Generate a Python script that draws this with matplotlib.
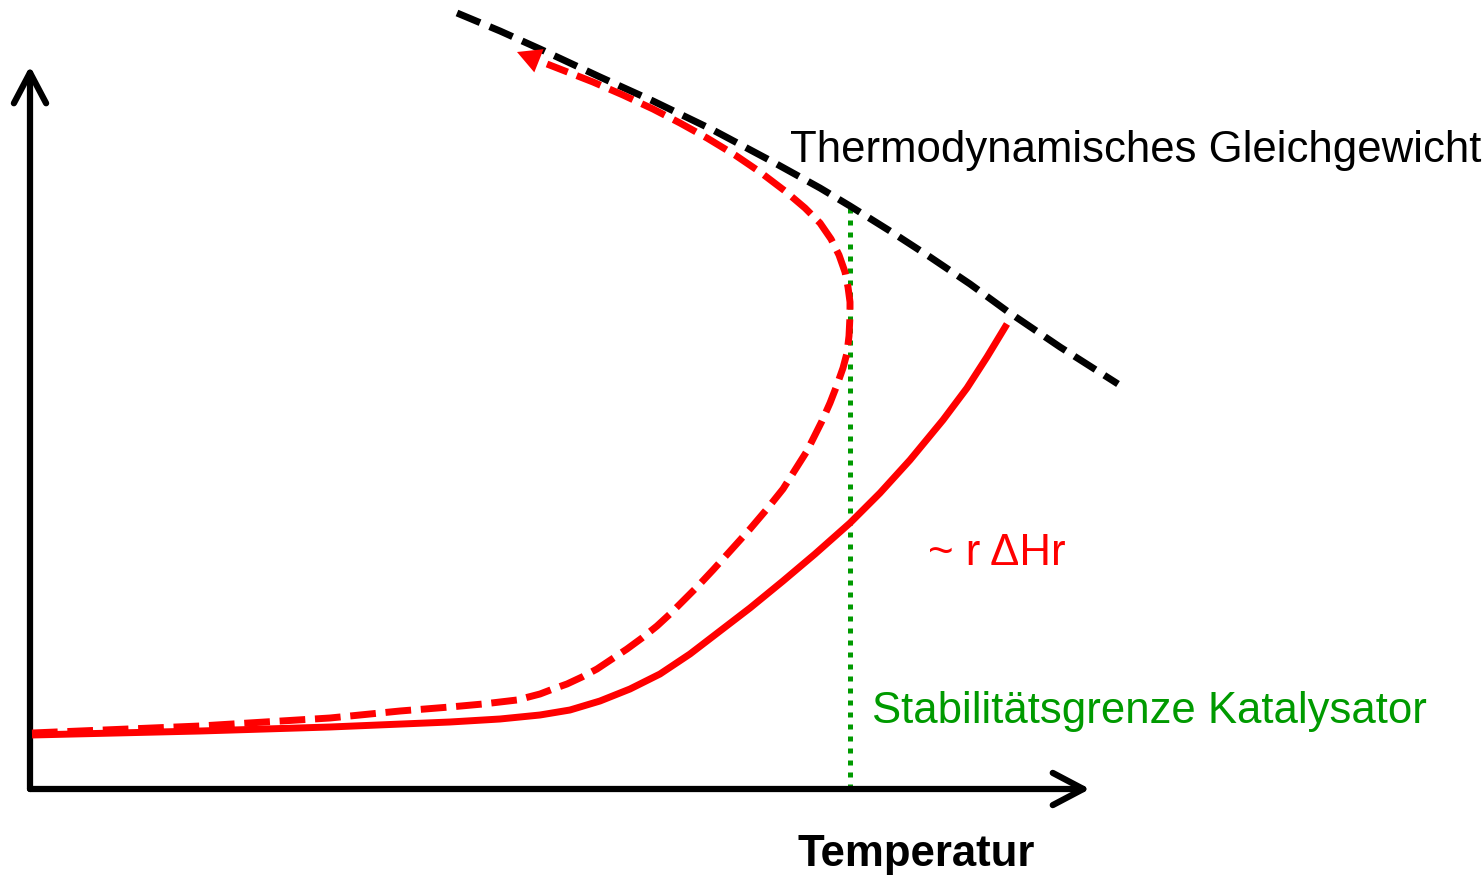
import matplotlib
matplotlib.use("Agg")
import matplotlib.pyplot as plt
from matplotlib import font_manager
from matplotlib.patches import FancyArrowPatch

# ---------------- data (schematic units: T to the right, Y upwards) ----------------
# solid red curve (~ r ΔHr)
solid_T = [2, 170, 300, 420, 470, 510, 540, 570, 600, 630, 660, 690, 720, 753, 785, 820,
           850, 880, 913, 937, 957, 977]
solid_Y = [54, 58, 62, 67, 70, 74, 79, 88, 100, 115, 135, 158, 181, 208, 235, 266,
           296, 329, 369, 401, 432, 465]

# dashed red curve (S-shaped), ending in an arrow head
dashed_T = [2, 170, 300, 370, 420, 453, 487, 510, 523, 537, 552, 567, 582, 597, 612, 627,
            640, 653, 668, 683, 702, 720, 737, 753, 777, 792, 800, 807, 813, 817, 819, 820,
            820, 818, 815, 809, 801, 790, 775, 755, 730, 705, 677, 650, 623, 593, 563, 517]
dashed_Y = [56, 63, 71, 78, 82, 85, 89, 95, 100, 105, 112, 120, 130, 140, 151, 163,
            175, 188, 203, 219, 240, 260, 280, 300, 338, 368, 386, 404, 421, 436, 453, 473,
            487, 502, 517, 534, 550, 566, 581, 598, 617, 634, 651, 666, 680, 694, 707, 725]
dashed_tip = (487, 737)

# thermodynamic equilibrium (black dashed)
equil_T = [427, 470, 510, 570, 623, 683, 743, 790, 820, 860, 900, 940, 977, 1030, 1088]
equil_Y = [776, 758, 740, 712, 688, 659, 627, 601, 583, 558, 532, 505, 478, 442, 405]

# catalyst stability limit (green dotted)
limit_T = 820
limit_Y = [0, 587]

axis_x_end = 1060
axis_y_end = 723

labels = {
    "equil": "Thermodynamisches Gleichgewicht",
    "heat": "~ r ΔHr",
    "limit": "Stabilitätsgrenze Katalysator",
    "xlabel": "Temperatur",
}
label_pos = {
    "equil": (760, 628),
    "heat": (898, 225),
    "limit": (842, 67),
    "xlabel": (767, -76),
}

# ---------------- fonts ----------------
names = {f.name for f in font_manager.fontManager.ttflist}
narrow = None
for cand in ["Liberation Sans Narrow", "Arial Narrow"]:
    if cand in names:
        narrow = cand
        break
if narrow:
    fam, fs = narrow, 35
else:
    fam, fs = "Liberation Sans", 31.5

RED = "#FF0000"
GREEN = "#009A00"

fig = plt.figure(figsize=(14.83, 8.78), dpi=100)
ax = fig.add_axes([0, 0, 1, 1])
ax.set_xlim(-30, 1453)
ax.set_ylim(-88, 790)
ax.axis("off")

# axes with open arrow heads
for end in [(axis_x_end, 0), (0, axis_y_end)]:
    ax.add_patch(FancyArrowPatch((0, 0), end, arrowstyle="->,head_length=1.1,head_width=0.58",
                                 mutation_scale=20, lw=4.5, color="black",
                                 capstyle="round", joinstyle="round",
                                 shrinkA=0, shrinkB=0, zorder=3))

# green stability limit
ax.plot([limit_T, limit_T], limit_Y, color=GREEN, lw=3.6,
        linestyle=(0, (1.0, 1.4)), dash_capstyle="butt", zorder=2)

# thermodynamic equilibrium
ax.plot(equil_T, equil_Y, color="black", lw=5, linestyle=(0, (3.6, 1.5)),
        dash_capstyle="butt", zorder=4)

# solid red curve
ax.plot(solid_T, solid_Y, color=RED, lw=5, solid_capstyle="butt",
        solid_joinstyle="round", zorder=5)

# dashed red curve with arrow
ax.plot(dashed_T, dashed_Y, color=RED, lw=5, linestyle=(0, (3.7, 1.4)),
        dash_capstyle="butt", dash_joinstyle="round", zorder=5)
ax.add_patch(FancyArrowPatch((dashed_T[-1], dashed_Y[-1]), dashed_tip,
                             arrowstyle="-|>,head_length=0.85,head_width=0.45",
                             mutation_scale=20, lw=0, color=RED,
                             shrinkA=0, shrinkB=0, zorder=6))

# texts
ax.text(*label_pos["equil"], labels["equil"], fontsize=fs, family=[fam, "DejaVu Sans"],
        color="black", ha="left", va="baseline")
ax.text(*label_pos["heat"], labels["heat"], fontsize=fs, family=[fam, "DejaVu Sans"],
        color=RED, ha="left", va="baseline")
ax.text(*label_pos["limit"], labels["limit"], fontsize=fs, family=[fam, "DejaVu Sans"],
        color=GREEN, ha="left", va="baseline")
ax.text(*label_pos["xlabel"], labels["xlabel"], fontsize=fs, family=[fam, "DejaVu Sans"],
        fontweight="bold", color="black", ha="left", va="baseline")

fig.savefig("out.png", dpi=100)
